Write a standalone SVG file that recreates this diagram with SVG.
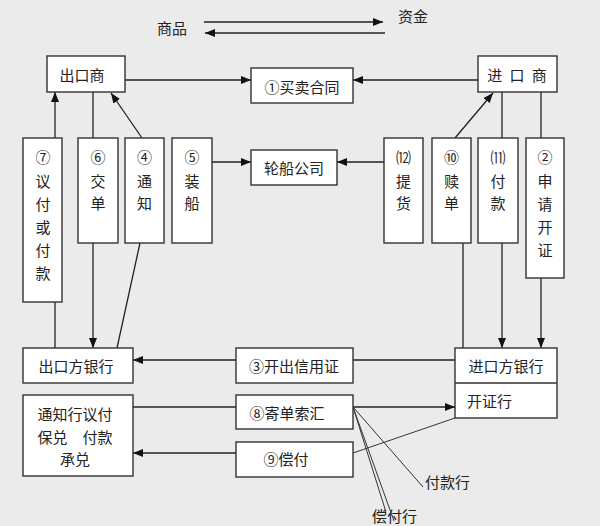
<svg xmlns="http://www.w3.org/2000/svg" width="600" height="526" viewBox="0 0 600 526">
<defs>
<marker id="ah" viewBox="0 0 10 8" refX="10" refY="4" markerWidth="10" markerHeight="8" markerUnits="userSpaceOnUse" orient="auto">
<path d="M0,0 L10,4 L0,8 z" fill="#111"/>
</marker>
</defs>
<style>
.bg{fill:#ebebeb}
.box{fill:#ffffff;stroke:#333;stroke-width:1.4}
.ln{fill:none;stroke:#222;stroke-width:1.3}
.thin{fill:none;stroke:#333;stroke-width:1}
.arr{marker-end:url(#ah)}
text{font-family:"Noto Sans CJK SC","Liberation Sans",sans-serif;font-size:15px;fill:#222;dominant-baseline:central}
.c{text-anchor:middle}
</style>
<rect class="bg" x="0" y="0" width="600" height="526"/>

<g id="legend">
<text x="157" y="27">商品</text>
<text x="398" y="15">资金</text>
</g>

<g id="connectors">
<line class="ln arr" x1="204" y1="22" x2="383" y2="22"/>
<line class="ln arr" x1="385" y1="33" x2="205" y2="33"/>
<line class="ln arr" x1="125" y1="80" x2="251" y2="80"/>
<line class="ln arr" x1="478" y1="80" x2="353" y2="80"/>
<line class="ln arr" x1="55" y1="348" x2="55" y2="92"/>
<line class="ln arr" x1="93" y1="92" x2="93" y2="348"/>
<path class="ln arr" d="M117,348 L140,243 M142,138 L111,93"/>
<line class="ln arr" x1="212" y1="162" x2="251" y2="162"/>
<line class="ln arr" x1="384" y1="162" x2="337" y2="162"/>
<path class="ln arr" d="M463,348 V243 M455,138 L493,93"/>
<line class="ln arr" x1="502" y1="92" x2="502" y2="348"/>
<line class="ln arr" x1="541" y1="92" x2="541" y2="348"/>
<line class="ln arr" x1="236" y1="360" x2="133" y2="360"/>
<line class="ln" x1="353" y1="360" x2="455" y2="360"/>
<line class="ln" x1="133" y1="407" x2="236" y2="407"/>
<line class="ln arr" x1="353" y1="407" x2="455" y2="407"/>
<line class="ln arr" x1="236" y1="453" x2="133" y2="453"/>
<line class="thin" x1="353" y1="453" x2="455" y2="418"/>
<line class="thin" x1="353" y1="407" x2="423" y2="487"/>
<line class="thin" x1="353" y1="407" x2="386" y2="512"/>
<line class="thin" x1="353" y1="407" x2="394" y2="521"/>
</g>

<g id="exporter"><rect class="box" x="47" y="56" width="78" height="36"/><text class="c" x="82" y="74">出口商</text></g>
<g id="contract"><rect class="box" x="251" y="68" width="102" height="35"/><text class="c" x="302" y="86">①买卖合同</text></g>
<g id="importer"><rect class="box" x="478" y="56" width="79" height="36"/><text class="c" x="518" y="74" letter-spacing="2">进 口 商</text></g>

<g id="step7"><rect class="box" x="23" y="138" width="39" height="164"/>
<text class="c" x="43" y="156">⑦</text><text class="c" x="43" y="180">议</text><text class="c" x="43" y="203">付</text><text class="c" x="43" y="226">或</text><text class="c" x="43" y="249">付</text><text class="c" x="43" y="272">款</text></g>
<g id="step6"><rect class="box" x="78" y="138" width="40" height="105"/>
<text class="c" x="98" y="156">⑥</text><text class="c" x="98" y="180">交</text><text class="c" x="98" y="202">单</text></g>
<g id="step4"><rect class="box" x="125" y="138" width="39" height="105"/>
<text class="c" x="144.5" y="156">④</text><text class="c" x="144.5" y="180">通</text><text class="c" x="144.5" y="202">知</text></g>
<g id="step5"><rect class="box" x="172" y="138" width="40" height="105"/>
<text class="c" x="192" y="156">⑤</text><text class="c" x="192" y="180">装</text><text class="c" x="192" y="202">船</text></g>
<g id="shipping"><rect class="box" x="251" y="150" width="86" height="35"/><text class="c" x="294" y="167">轮船公司</text></g>
<g id="step12"><rect class="box" x="384" y="138" width="39" height="105"/>
<text class="c" x="403.5" y="156">⑿</text><text class="c" x="403.5" y="180">提</text><text class="c" x="403.5" y="202">货</text></g>
<g id="step10"><rect class="box" x="432" y="138" width="39" height="105"/>
<text class="c" x="451.5" y="156">⑩</text><text class="c" x="451.5" y="180">赎</text><text class="c" x="451.5" y="202">单</text></g>
<g id="step11"><rect class="box" x="478" y="138" width="40" height="105"/>
<text class="c" x="498" y="156">⑾</text><text class="c" x="498" y="180">付</text><text class="c" x="498" y="202">款</text></g>
<g id="step2"><rect class="box" x="526" y="138" width="38" height="140"/>
<text class="c" x="545" y="156">②</text><text class="c" x="545" y="180">申</text><text class="c" x="545" y="203">请</text><text class="c" x="545" y="226">开</text><text class="c" x="545" y="249">证</text></g>

<g id="exportbank"><rect class="box" x="23" y="348" width="110" height="35"/><text class="c" x="76" y="365">出口方银行</text></g>
<g id="advisingbank"><rect class="box" x="23" y="395" width="110" height="81"/>
<text class="c" x="75" y="413">通知行议付</text><text class="c" x="75" y="436">保兑　付款</text><text class="c" x="75" y="458">承兑</text></g>
<g id="step3"><rect class="box" x="236" y="348" width="117" height="35"/><text class="c" x="294" y="365">③开出信用证</text></g>
<g id="step8"><rect class="box" x="236" y="395" width="117" height="34"/><text class="c" x="287" y="412">⑧寄单索汇</text></g>
<g id="step9"><rect class="box" x="236" y="442" width="117" height="35"/><text class="c" x="286" y="458">⑨偿付</text></g>
<g id="importbank"><rect class="box" x="455" y="348" width="102" height="70"/><line class="box" x1="455" y1="383" x2="557" y2="383"/>
<text class="c" x="506" y="365">进口方银行</text><text x="467" y="400">开证行</text></g>

<g id="labels">
<text x="425" y="481">付款行</text>
<text x="372" y="515">偿付行</text>
</g>
</svg>
